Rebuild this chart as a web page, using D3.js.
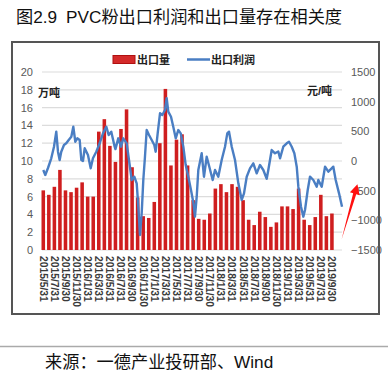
<!DOCTYPE html>
<html><head><meta charset="utf-8">
<script src="https://cdn.jsdelivr.net/npm/d3@7"></script>
<style>
html,body{margin:0;padding:0;background:#fff;}
svg{display:block;}
text{font-family:"Liberation Sans","Noto Sans CJK SC",sans-serif;}
</style></head>
<body>
<svg id="c" width="388" height="377"></svg>
<script>
// ---- data ----
const months = ["2015/5/31","2015/6/30","2015/7/31","2015/8/31","2015/9/30","2015/10/31","2015/11/30","2015/12/31",
"2016/1/31","2016/2/29","2016/3/31","2016/4/30","2016/5/31","2016/6/30","2016/7/31","2016/8/31","2016/9/30","2016/10/31","2016/11/30","2016/12/31",
"2017/1/31","2017/2/28","2017/3/31","2017/4/30","2017/5/31","2017/6/30","2017/7/31","2017/8/31","2017/9/30","2017/10/31","2017/11/30","2017/12/31",
"2018/1/31","2018/2/28","2018/3/31","2018/4/30","2018/5/31","2018/6/30","2018/7/31","2018/8/31","2018/9/30","2018/10/31","2018/11/30","2018/12/31",
"2019/1/31","2019/2/28","2019/3/31","2019/4/30","2019/5/31","2019/6/30","2019/7/31","2019/8/31","2019/9/30"];
const exportVolume = [6.7,6.2,7.1,9.0,6.7,6.5,7.0,7.6,6.0,6.0,
13.3,14.7,11.7,9.9,13.6,15.8,9.3,
5.9,3.8,3.6,5.4,
12.0,18.1,9.5,12.4,13.0,9.5,
5.6,3.5,3.4,4.1,
6.9,7.4,6.5,7.4,7.1,
5.6,3.4,2.8,4.3,3.7,2.6,3.1,
4.9,4.9,4.6,6.9,3.4,2.8,3.7,6.2,3.8,4.1];
// profit line: month offset from 2015/5 (t) and value (元/吨)
const profitT = [0,0.36,0.85,1.44,1.93,2.34,2.65,2.95,3.24,3.73,4.14,4.58,5.05,5.41,5.77,6.13,6.56,6.85,7.15,7.46,8.05,8.54,8.95,9.55,10.16,10.76,11.35,11.78,12.25,12.86,13.0,13.51,14.0,14.41,15.03,15.44,15.93,16.40,16.83,17.12,17.42,17.73,18.02,18.32,18.63,19.05,19.53,20.0,20.25,20.61,21.03,21.44,21.93,22.23,22.52,23.01,23.42,23.86,24.32,24.76,25.23,25.66,26.13,26.61,27.03,27.33,27.64,27.93,28.54,28.95,29.44,29.91,30.52,30.94,31.53,32.14,32.74,33.15,33.46,33.95,34.54,35.14,35.75,36.16,36.65,37.24,37.84,38.45,39.04,39.64,40.25,40.54,41.15,41.75,42.34,42.65,43.24,43.86,44.27,44.76,45.23,45.66,45.95,46.43,46.85,47.15,47.64,48.05,48.65,49.26,49.55,50.16,50.76,51.35,51.95,52.25,52.68,53.28,53.82];
const profitV = [-152,-236,-118,45,241,494,157,17,157,270,298,354,409,578,325,382,354,17,0,214,101,-124,45,157,298,466,578,438,494,241,200,382,241,382,298,17,-320,-265,-376,-770,-1247,-881,-320,72,522,438,354,270,157,466,804,775,859,1060,831,746,578,382,522,466,241,-68,-265,-489,-700,-938,-602,-152,130,-265,72,-96,-320,-152,-265,17,241,466,494,241,17,-376,-657,-545,-265,-124,-40,-208,-68,-152,-300,-152,185,130,160,45,241,298,325,241,130,-96,-433,-770,-938,-826,-489,-265,-320,-433,-320,-433,-96,-180,-124,-96,-320,-545,-770];
const tickLabels = ["2015/5/31","2015/7/31","2015/9/30","2015/11/30","2016/1/31","2016/3/31","2016/5/31","2016/7/31","2016/9/30","2016/11/30",
"2017/1/31","2017/3/31","2017/5/31","2017/7/31","2017/9/30","2017/11/30","2018/1/31","2018/3/31","2018/5/31","2018/7/31","2018/9/30","2018/11/30",
"2019/1/31","2019/3/31","2019/5/31","2019/7/31","2019/9/30"];
const leftTicks = [0,2,4,6,8,10,12,14,16,18,20];
const rightTicks = [-1500,-1000,-500,0,500,1000,1500];

// ---- drawing ----
const svg = d3.select("#c");
const plotTop = 72, plotBottom = 250;
const x = d3.scaleBand().domain(months).range([40.5, 334.7]).paddingInner(0.36).paddingOuter(0.18);
const xc = m => x(m) + x.bandwidth()/2;
const yL = d3.scaleLinear().domain([0,20]).range([plotBottom, plotTop]);
const yR = d3.scaleLinear().domain([-1500,1500]).range([plotBottom, plotTop]);
const xt = d3.scaleLinear().domain([0, months.length-1]).range([xc(months[0]), xc(months[months.length-1])]);

// title
const title = svg.append("text").attr("x",16).attr("y",23).attr("font-size",17.2).attr("fill","#111");
title.append("tspan").text("图2.9");
title.append("tspan").attr("dx",9).text("PVC粉出口利润和出口量存在相关度");

// frame
svg.append("rect").attr("x",12).attr("y",42).attr("width",367).attr("height",272)
  .attr("fill","none").attr("stroke","#555").attr("stroke-width",2);

// gridlines
svg.append("g").selectAll("line").data(leftTicks).join("line")
  .attr("x1",42).attr("x2",342).attr("y1",d=>yL(d)).attr("y2",d=>yL(d))
  .attr("stroke","#dcdcdc").attr("stroke-width",1.2);

// bars
svg.append("g").selectAll("rect").data(exportVolume).join("rect")
  .attr("x",(d,i)=>x(months[i])).attr("width",x.bandwidth())
  .attr("y",d=>yL(d)).attr("height",d=>yL(0)-yL(d))
  .attr("fill","#cf1e1f");

// profit line
const line = d3.line().x(d=>xt(d[0])).y(d=>yR(d[1])).curve(d3.curveLinear);
svg.append("path").datum(profitT.map((t,i)=>[t,profitV[i]]))
  .attr("d",line).attr("fill","none").attr("stroke","#4a7ec3").attr("stroke-width",2.4)
  .attr("stroke-linejoin","round");

// left axis
const axL = d3.axisLeft(yL).tickValues(leftTicks).tickSize(0).tickPadding(0);
const gL = svg.append("g").attr("transform","translate(33,0)").call(axL);
gL.select(".domain").remove();
gL.selectAll("text").attr("font-size",11).attr("fill","#595959").attr("font-family",null);

// right axis
const axR = d3.axisRight(yR).tickValues(rightTicks).tickFormat(d3.format("d")).tickSize(0).tickPadding(0);
const gR = svg.append("g").attr("transform","translate(351,0)").call(axR);
gR.select(".domain").remove();
gR.selectAll("text").attr("font-size",11).attr("fill","#595959").attr("font-family",null);

// x labels
const gX = svg.append("g");
gX.selectAll("text").data(tickLabels).join("text")
  .attr("transform",d=>`translate(${xc(d)},256) rotate(90)`)
  .attr("dy","0.35em").attr("font-size",10.3).attr("font-weight","bold").attr("fill","#3a3a3a")
  .text(d=>d);

// unit labels
svg.append("text").attr("x",38).attr("y",97).attr("font-size",11).attr("font-weight","bold").attr("fill","#222").text("万吨");
svg.append("text").attr("x",307).attr("y",95).attr("font-size",11).attr("font-weight","bold").attr("fill","#222").text("元/吨");

// legend
svg.append("rect").attr("x",113).attr("y",55.5).attr("width",22).attr("height",8)
  .attr("fill","#d42a2a").attr("stroke","#b01010").attr("stroke-width",1);
svg.append("text").attr("x",137).attr("y",64).attr("font-size",11).attr("font-weight","bold").attr("fill","#222").text("出口量");
svg.append("line").attr("x1",187).attr("x2",210).attr("y1",59.5).attr("y2",59.5).attr("stroke","#4a7ec3").attr("stroke-width",2.5);
svg.append("text").attr("x",211).attr("y",64).attr("font-size",11).attr("font-weight","bold").attr("fill","#222").text("出口利润");

// red arrow annotation
const ax0 = xt(53.75), ay0 = yL(1.2), ax1 = xt(56.6), ay1 = yL(7.4);
const ang = Math.atan2(ay1-ay0, ax1-ax0);
const nx = -Math.sin(ang), ny = Math.cos(ang);
const hb = 10; // head length
const bx = ax1 - hb*Math.cos(ang), by = ay1 - hb*Math.sin(ang);
const pts = [
  [ax0, ay0],
  [bx + nx*1.6, by + ny*1.6],
  [bx + nx*5, by + ny*5],
  [ax1, ay1],
  [bx - nx*5, by - ny*5],
  [bx - nx*1.6, by - ny*1.6]
];
svg.append("path").attr("d","M"+pts.map(p=>p.join(",")).join("L")+"Z").attr("fill","#ff1010");

// separator and source
svg.append("line").attr("x1",0).attr("x2",388).attr("y1",346.5).attr("y2",346.5).attr("stroke","#aaa").attr("stroke-width",1.5);
svg.append("text").attr("x",45).attr("y",368).attr("font-size",17.2).attr("fill","#111").text("来源：一德产业投研部、Wind");
</script>
</body></html>
